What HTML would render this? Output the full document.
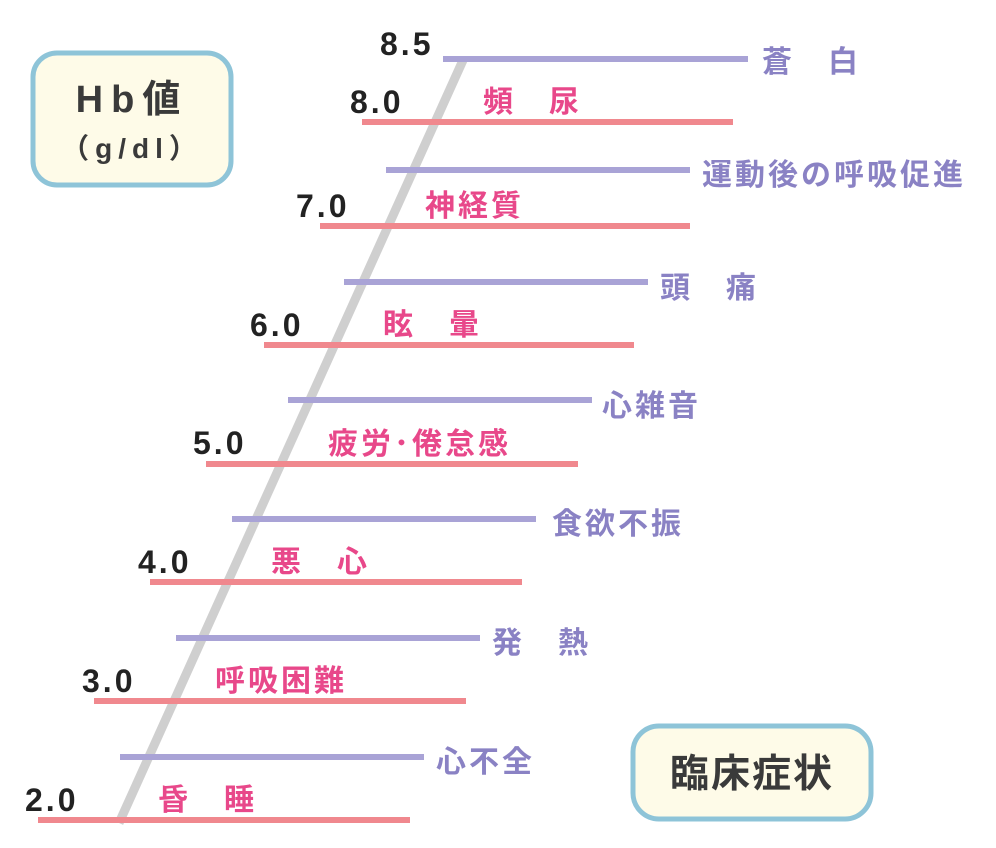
<!DOCTYPE html>
<html><head><meta charset="utf-8"><style>
html,body{margin:0;padding:0;background:#fff;}
svg{display:block;}
text{font-family:"Liberation Sans","Noto Sans CJK JP",sans-serif;}
.n{font-size:32px;font-weight:bold;fill:#222;letter-spacing:3px;}
.p{font-size:30px;font-weight:bold;fill:#e8488a;letter-spacing:3px;}
.v{font-size:30px;font-weight:bold;fill:#8a82c4;letter-spacing:3px;}
</style></head><body>
<svg width="996" height="848" viewBox="0 0 996 848">
<rect x="33" y="53" width="198" height="132" rx="24" fill="#fefbe8" stroke="#8ec4d8" stroke-width="5"/>
<text x="132" y="112" text-anchor="middle" font-size="38" font-weight="bold" fill="#3a3a3a" letter-spacing="8">Hb値</text>
<text x="132" y="158" text-anchor="middle" font-size="28" font-weight="bold" fill="#3a3a3a" letter-spacing="6">（g/dl）</text>
<rect x="633" y="726" width="238" height="93" rx="26" fill="#fefbe8" stroke="#8ec4d8" stroke-width="5"/>
<text x="752" y="787" text-anchor="middle" font-size="39" font-weight="bold" fill="#3a3a3a" letter-spacing="2">臨床症状</text>
<line x1="464" y1="58" x2="119" y2="823" stroke="#cfcfcf" stroke-width="9"/>
<g stroke="#a9a3d6" stroke-width="6">
<line x1="443" y1="59" x2="748" y2="59"/>
<line x1="386" y1="170" x2="690" y2="170"/>
<line x1="344" y1="282" x2="648" y2="282"/>
<line x1="288" y1="400" x2="592" y2="400"/>
<line x1="232" y1="519" x2="536" y2="519"/>
<line x1="176" y1="638" x2="480" y2="638"/>
<line x1="120" y1="757" x2="424" y2="757"/>
</g>
<g stroke="#f0888e" stroke-width="6">
<line x1="362" y1="122" x2="733" y2="122"/>
<line x1="320" y1="226" x2="690" y2="226"/>
<line x1="264" y1="345" x2="634" y2="345"/>
<line x1="206" y1="464" x2="578" y2="464"/>
<line x1="150" y1="582" x2="522" y2="582"/>
<line x1="94" y1="701" x2="466" y2="701"/>
<line x1="38" y1="820" x2="410" y2="820"/>
</g>
<text class="n" x="380" y="55">8.5</text>
<text class="n" x="350" y="113">8.0</text>
<text class="n" x="296" y="217">7.0</text>
<text class="n" x="250" y="336">6.0</text>
<text class="n" x="193" y="454">5.0</text>
<text class="n" x="138" y="573">4.0</text>
<text class="n" x="82" y="692">3.0</text>
<text class="n" x="25" y="811">2.0</text>
<text class="p" x="483" y="112">頻　尿</text>
<text class="p" x="425" y="216">神経質</text>
<text class="p" x="383" y="335">眩　暈</text>
<text class="p" x="328" y="454">疲労･倦怠感</text>
<text class="p" x="271" y="572">悪　心</text>
<text class="p" x="215" y="691">呼吸困難</text>
<text class="p" x="158" y="810">昏　睡</text>
<text class="v" x="762" y="72">蒼　白</text>
<text class="v" x="702" y="185">運動後の呼吸促進</text>
<text class="v" x="660" y="298">頭　痛</text>
<text class="v" x="602" y="416">心雑音</text>
<text class="v" x="552" y="534">食欲不振</text>
<text class="v" x="492" y="653">発　熱</text>
<text class="v" x="436" y="772">心不全</text>
</svg>
</body></html>
